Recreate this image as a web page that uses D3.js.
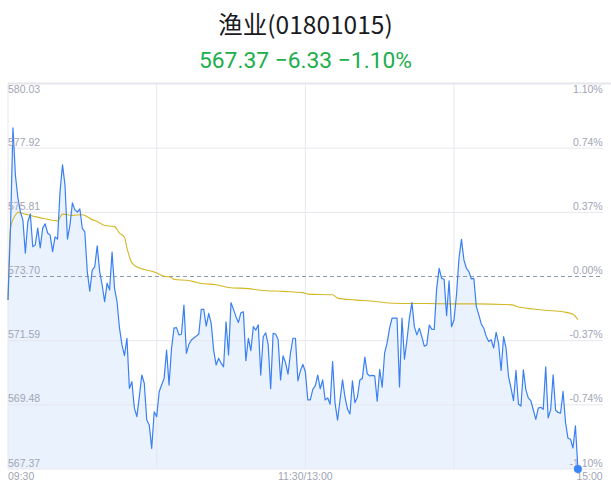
<!DOCTYPE html>
<html><head><meta charset="utf-8">
<script src="https://cdn.jsdelivr.net/npm/d3@7/dist/d3.min.js"></script>
<style>
html,body{margin:0;padding:0;background:#fff;}
svg{display:block;}
</style></head>
<body>
<svg id="chart" width="611" height="492"></svg>
<script>
const title = "渔业(01801015)";
const subtitle = "567.37 −6.33 −1.10%";
const prevClose = 573.70;
const priceTicks = [580.03, 577.92, 575.81, 573.70, 571.59, 569.48, 567.37];
const pctTicks = ["1.10%", "0.74%", "0.37%", "0.00%", "-0.37%", "-0.74%", "-1.10%"];
const timeLabels = ["09:30", "11:30/13:00", "15:00"];
const timeTicks = [0, 120, 240];
const gridMinutes = [0, 60, 120, 180];

// one price per minute, from 09:30
const prices = [
572.93,575.29,578.59,577.02,576.28,575.83,575.56,574.47,575.50,575.76,
574.68,574.74,575.29,574.64,575.29,575.43,575.13,575.06,574.52,575.00,
574.93,576.49,577.37,576.71,574.93,575.39,576.12,575.89,575.82,575.92,
575.28,575.17,573.86,573.22,573.91,574.02,574.71,573.86,573.42,572.87,
573.48,573.26,574.50,573.31,572.87,572.00,571.45,571.10,571.67,570.02,
570.24,569.37,569.09,569.75,570.46,570.19,568.98,568.82,568.05,569.25,
569.09,569.91,570.13,570.35,571.28,570.13,571.34,572.00,572.02,571.78,
571.80,572.76,571.17,571.47,571.61,571.68,571.74,571.81,572.62,572.62,
572.07,572.49,572.16,571.28,570.79,571.01,570.85,570.73,572.21,571.12,
572.84,572.62,572.38,572.19,572.51,572.54,570.93,571.67,571.26,572.05,
571.94,572.11,570.46,571.72,571.85,571.45,570.01,571.83,571.81,571.63,
570.30,571.09,570.87,570.49,571.18,571.67,571.67,570.27,570.60,570.81,
570.57,569.64,569.64,569.99,570.10,570.46,570.01,570.30,569.64,569.71,
569.50,570.90,569.53,568.98,569.64,570.30,569.73,569.34,569.18,570.27,
569.55,569.73,570.30,570.35,571.05,570.50,570.43,570.45,570.43,569.60,
570.65,570.06,571.19,571.52,572.00,572.33,572.33,572.33,570.07,572.33,
570.98,571.61,572.33,572.84,572.05,571.78,572.00,571.72,571.41,571.45,
572.10,571.97,571.96,573.31,573.97,573.64,573.61,572.41,573.56,572.05,
572.28,573.10,574.30,574.92,574.24,573.97,573.86,573.62,573.64,572.71,
572.44,572.14,572.00,571.73,571.56,571.62,571.35,571.86,571.49,570.61,
571.72,571.34,570.41,570.03,569.62,570.61,569.51,569.44,570.63,569.97,
569.70,569.62,569.31,569.00,569.37,569.40,569.33,570.73,569.05,569.32,
570.47,569.30,569.23,569.21,569.92,568.90,568.38,568.35,568.06,568.79,
567.37
];

// average price line (minute, value)
const avgMinutes = [0,1,3,4,7,11,15,20,22,26,30,34,36,39,43,45,47,48,50,53,55,59,63,66,67,73,76,78,84,89,97,102,111,119,121,131,133,140,148,156,168,181,189,200,204,205,212,217,224,228,230];
const avgValues = [572.93,575.30,575.72,575.81,575.75,575.67,575.60,575.53,575.75,575.71,575.73,575.57,575.51,575.38,575.34,575.13,574.99,574.64,574.15,573.98,573.93,573.85,573.71,573.67,573.60,573.57,573.51,573.47,573.43,573.34,573.30,573.25,573.21,573.17,573.12,573.10,572.99,572.93,572.88,572.82,572.81,572.80,572.80,572.78,572.76,572.72,572.63,572.59,572.54,572.46,572.28];

const svg = d3.select("#chart");
const L = 8, R = 602.7, T = 84, B = 469;
const x = d3.scaleLinear().domain([0, 240]).range([L, R]);
const y = d3.scaleLinear().domain([567.37, 580.03]).range([B, T]);
const labelFont = "Liberation Sans, Arial, sans-serif";
const gridColor = "#e7e7ee";
const labelColor = "#a1a5b5";

// title
svg.append("text").attr("x", 305.5).attr("y", 34).attr("text-anchor", "middle")
  .attr("font-family", "'Noto Sans CJK SC', sans-serif").attr("font-size", 24.5)
  .attr("fill", "#1a1a22").text(title);
svg.append("text").attr("x", 305.5).attr("y", 68).attr("text-anchor", "middle")
  .attr("font-family", "Roboto, 'Noto Sans', sans-serif").attr("font-size", 22.8)
  .attr("fill", "#20ae4c").text(subtitle);

// top border
svg.append("line").attr("x1", L).attr("x2", 611).attr("y1", T - 0.5).attr("y2", T - 0.5)
  .attr("stroke", "#e6e6ec").attr("stroke-width", 1.8);

// area fill
const area = d3.area().x((d, i) => x(i)).y0(B).y1(d => y(d));
svg.append("path").datum(prices).attr("d", area).attr("fill", "#2f7cf6").attr("fill-opacity", 0.1);

// horizontal grid
priceTicks.forEach((v, i) => {
  if (v === prevClose || i === 0) return;
  svg.append("line").attr("x1", L).attr("x2", R).attr("y1", y(v)).attr("y2", y(v))
    .attr("stroke", gridColor).attr("stroke-width", 1);
});
// vertical grid
gridMinutes.forEach(m => {
  svg.append("line").attr("x1", x(m)).attr("x2", x(m)).attr("y1", T).attr("y2", B)
    .attr("stroke", gridColor).attr("stroke-width", 1);
});
// dashed prev close
svg.append("line").attr("x1", L).attr("x2", R).attr("y1", y(prevClose)).attr("y2", y(prevClose))
  .attr("stroke", "#8e99b2").attr("stroke-width", 1).attr("stroke-dasharray", "4,3");

// average line
const avgLine = d3.line().x((d, i) => x(avgMinutes[i])).y(d => y(d)).curve(d3.curveMonotoneX);
svg.append("path").datum(avgValues).attr("d", avgLine).attr("fill", "none")
  .attr("stroke", "#d5b826").attr("stroke-width", 1.1);

// price line
const line = d3.line().x((d, i) => x(i)).y(d => y(d));
svg.append("path").datum(prices).attr("d", line).attr("fill", "none")
  .attr("stroke", "#3a80f2").attr("stroke-width", 1.2).attr("stroke-linejoin", "round");

// labels
priceTicks.forEach((v, i) => {
  const yy = i === 0 ? y(v) + 8.5 : y(v) - 2.5;
  svg.append("text").attr("x", L).attr("y", yy).attr("font-family", labelFont)
    .attr("font-size", 10.5).attr("fill", labelColor).text(v.toFixed(2));
  svg.append("text").attr("x", R).attr("y", yy).attr("text-anchor", "end").attr("font-family", labelFont)
    .attr("font-size", 10.5).attr("fill", labelColor).text(pctTicks[i]);
});
timeTicks.forEach((m, i) => {
  const anchor = i === 0 ? "start" : (i === timeTicks.length - 1 ? "end" : "middle");
  svg.append("text").attr("x", x(m)).attr("y", 480).attr("text-anchor", anchor)
    .attr("font-family", labelFont).attr("font-size", 10.5).attr("fill", labelColor).text(timeLabels[i]);
});

// end dot
const last = prices.length - 1;
svg.append("circle").attr("cx", x(last)).attr("cy", y(prices[last])).attr("r", 4).attr("fill", "#3a86f7");
</script>
</body></html>
